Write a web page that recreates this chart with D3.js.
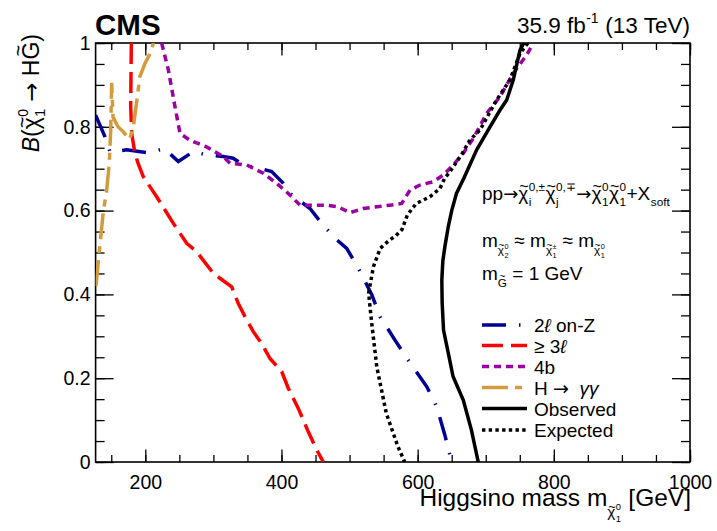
<html>
<head>
<meta charset="utf-8">
<script src="https://cdnjs.cloudflare.com/ajax/libs/d3/7.8.5/d3.min.js"></script>
<style>
  body { margin: 0; background: #fff; }
  text { font-family: "Liberation Sans", Arial, sans-serif; fill: #000; white-space: pre; }
</style>
</head>
<body>
<div id="chart"></div>
<script>
// limit curves, [higgsino mass (GeV), branching fraction]
var onZ = [[127,0.828],[140.8,0.776],[148,0.741],[160,0.742],[172.7,0.745],[204.4,0.738],[228,0.748],
  [248.5,0.717],[270.5,0.741],[290,0.733],[314.5,0.729],[329,0.725],[344,0.709],[368,0.701],
  [385.6,0.693],[402.7,0.665],[412.5,0.641],[441.9,0.605],[461.5,0.565],[478,0.535],[495.8,0.510],
  [513,0.462],[532.5,0.400],[544.7,0.347],[566.7,0.291],[586.3,0.243],[613.3,0.180],[628,0.132],
  [640,0.064],[650,0.0]];
var threeL = [[179.5,1.0],[178.5,0.85],[180,0.784],[185,0.735],[190,0.71],[197,0.681],[216.7,0.633],
  [241,0.570],[260.8,0.522],[275.5,0.502],[299.9,0.450],[326.9,0.418],[336.6,0.378],[346.4,0.347],
  [358.6,0.311],[370.9,0.283],[383.1,0.247],[400.3,0.216],[410,0.176],[424.7,0.128],[439.4,0.072],
  [451.7,0.029],[461.5,0.0]];
var fourB = [[224,1.0],[233.8,0.936],[243.6,0.848],[251,0.784],[265.6,0.768],[290,0.752],[314.5,0.729],
  [324.4,0.713],[348.9,0.709],[373.3,0.689],[393,0.665],[410,0.641],[427.2,0.613],[466.4,0.613],
  [483.4,0.609],[500.6,0.595],[520.2,0.605],[559.4,0.613],[576.6,0.617],[588.7,0.649],[603.4,0.661],
  [623,0.669],[637.6,0.685],[652.3,0.709],[667,0.737],[681.7,0.772],[701.3,0.832],[721,0.872],
  [740.5,0.928],[760,0.971],[770,1.0]];
var hgg = [[127.5,0.42],[132.4,0.502],[138.3,0.597],[143.3,0.649],[147.1,0.713],[149.2,0.792],
  [150.6,0.905],[152.6,0.823],[160,0.80],[167.7,0.788],[177,0.77],[182.4,0.80],[187.4,0.86],
  [192,0.92],[199.5,0.951],[207,0.975],[212,1.0]];
var observed = [[756,1.0],[750.3,0.983],[740.5,0.912],[730.8,0.864],[721,0.840],[706.3,0.800],
  [686.7,0.745],[668,0.678],[657,0.641],[650,0.60],[645,0.562],[640,0.514],[637,0.48],[635.5,0.434],
  [636,0.38],[638,0.315],[645,0.26],[652,0.204],[667,0.148],[679,0.076],[689,0.0]];
var expected = [[762,1.0],[750.3,0.975],[735.6,0.912],[716,0.864],[691.5,0.792],[676.9,0.769],
  [665,0.735],[647.5,0.693],[640,0.678],[632.8,0.653],[618,0.633],[603,0.621],[598,0.617],[585,0.59],
  [577,0.555],[568,0.54],[559,0.53],[545,0.51],[535,0.466],[528,0.403],[532,0.339],[540,0.227],
  [554,0.116],[571,0.037],[581,0.0]];

var xMajor = [200, 400, 600, 800, 1000];
var xMinor = d3.range(150, 1001, 50);
var yMajor = [0, 0.2, 0.4, 0.6, 0.8, 1];
var yMinor = d3.range(0, 21).map(function (i) { return i / 20; });

var W = 717, H = 531;
var svg = d3.select("#chart").append("svg").attr("width", W).attr("height", H);

var x = d3.scaleLinear().domain([127, 1000]).range([95.6, 690]);
var y = d3.scaleLinear().domain([0, 1]).range([462, 43]);

svg.append("clipPath").attr("id", "clip").append("rect")
  .attr("x", 95.6).attr("y", 43).attr("width", 690 - 95.6).attr("height", 462 - 43);

var ARROW = "'DejaVu Sans', sans-serif";

// rich text: parts laid out one after another
function rich(g, parts, size) {
  var cx = 0;
  parts.forEach(function (p) {
    var fs = size * (p.sc || 1), by = (p.dy || 0) * size;
    var t = g.append("text").attr("x", cx).attr("y", by).style("font-size", fs + "px").text(p.s);
    if (p.it) t.style("font-style", "italic");
    if (p.f) t.style("font-family", p.f);
    var w = t.node().getComputedTextLength();
    if (p.tl) {
      var off = p.tl === "hi" ? 0.58 : 0.4;
      g.append("text").attr("x", cx + w / 2 + (p.tl === "hi" ? 0 : fs * 0.04)).attr("y", by - fs * off)
        .attr("text-anchor", "middle").style("font-size", (fs * 0.85) + "px").text("~");
    }
    var ws = 0;
    if (p.sup) {
      var s = g.append("text").attr("x", cx + w + 0.5).attr("y", by - fs * 0.45)
        .style("font-size", (fs * 0.62) + "px").text(p.sup);
      ws = Math.max(ws, s.node().getComputedTextLength());
    }
    if (p.sub) {
      var b = g.append("text").attr("x", cx + w + 0.5).attr("y", by + fs * 0.3)
        .style("font-size", (fs * 0.62) + "px").text(p.sub);
      ws = Math.max(ws, b.node().getComputedTextLength());
    }
    cx += w + ws + (ws ? 1 : 0);
  });
  return cx;
}

// axes, ticks inside
function ax(gen, tx, ty, vals, len, labels) {
  var a = gen.tickValues(vals).tickSize(-len).tickPadding(labels ? labels : 0);
  if (!labels) a.tickFormat("");
  else a.tickFormat(function (d) { return String(d); });
  var g = svg.append("g").attr("transform", "translate(" + tx + "," + ty + ")").call(a);
  g.select(".domain").remove();
  g.selectAll("line").attr("stroke", "#000").attr("stroke-width", 1.3);
  g.selectAll("text").style("font-size", "19.5px").attr("fill", "#000")
    .style("font-family", "'Liberation Sans', Arial, sans-serif");
  return g;
}
ax(d3.axisBottom(x), 0, 462, xMinor, 7, 0);
ax(d3.axisBottom(x), 0, 462, xMajor, 12.5, 13);
ax(d3.axisTop(x), 0, 43, xMinor, 7, 0);
ax(d3.axisTop(x), 0, 43, xMajor, 12.5, 0);
ax(d3.axisLeft(y), 95.6, 0, yMinor, 9, 0);
ax(d3.axisLeft(y), 95.6, 0, yMajor, 18, 5);
ax(d3.axisRight(y), 690, 0, yMinor, 9, 0);
ax(d3.axisRight(y), 690, 0, yMajor, 18, 0);

svg.append("rect").attr("x", 95.6).attr("y", 43).attr("width", 690 - 95.6).attr("height", 462 - 43)
  .attr("fill", "none").attr("stroke", "#000").attr("stroke-width", 1.6);

var line = d3.line().x(function (d) { return x(d[0]); }).y(function (d) { return y(d[1]); });

var series = [
  { data: onZ,      color: "#000096", dash: "24,13,1.5,13", label: [{ s: "2" }, { s: "\u2113", it: true }, { s: " on-Z" }] },
  { data: threeL,   color: "#ff0000", dash: "21,8",         label: [{ s: "\u2265 3" }, { s: "\u2113", it: true }] },
  { data: fourB,    color: "#9a00a2", dash: "7,5",          label: [{ s: "4b" }] },
  { data: hgg,      color: "#d29b3c", dash: "26,7,7,7",     label: [{ s: "H " }, { s: "\u2192", f: ARROW }, { s: "  " }, { s: "\u03b3\u03b3", it: true }] },
  { data: observed, color: "#000000", dash: null,           label: [{ s: "Observed" }] },
  { data: expected, color: "#000000", dash: "3.4,3.3",      label: [{ s: "Expected" }] }
];

var plot = svg.append("g").attr("clip-path", "url(#clip)");
series.forEach(function (s) {
  plot.append("path").datum(s.data).attr("d", line)
    .attr("fill", "none").attr("stroke", s.color).attr("stroke-width", 3.5)
    .attr("stroke-dasharray", s.dash);
});

// legend
var legY = [325, 345.5, 366.5, 387.5, 408.5, 430];
series.forEach(function (s, i) {
  svg.append("line").attr("x1", 482).attr("x2", 527).attr("y1", legY[i]).attr("y2", legY[i])
    .attr("stroke", s.color).attr("stroke-width", 3.5).attr("stroke-dasharray", s.dash);
  var g = svg.append("g").attr("transform", "translate(534," + (legY[i] + 7) + ")");
  rich(g, s.label, 19);
});

// process text
var t1 = svg.append("g").attr("transform", "translate(482,200)");
rich(t1, [{ s: "pp" }, { s: "\u2192", f: ARROW, sc: 0.95 }, { s: "\u03c7", tl: true, sup: "0,\u00b1", sub: "i" },
  { s: "\u03c7", tl: true, sup: "0,\u2213", sub: "j" }, { s: "\u2192", f: ARROW, sc: 0.95 },
  { s: "\u03c7", tl: true, sup: "0", sub: "1" }, { s: "\u03c7", tl: true, sup: "0", sub: "1" },
  { s: "+X", sub: "soft" }], 19);

var t2 = svg.append("g").attr("transform", "translate(482,246.5)");
rich(t2, [{ s: "m" }, { s: "\u03c7", sc: 0.62, dy: 0.4, tl: true, sup: "0", sub: "2" },
  { s: " \u2248 m" }, { s: "\u03c7", sc: 0.62, dy: 0.4, tl: true, sup: "\u00b1", sub: "1" },
  { s: " \u2248 m" }, { s: "\u03c7", sc: 0.62, dy: 0.4, tl: true, sup: "0", sub: "1" }], 19);

var t3 = svg.append("g").attr("transform", "translate(482,280)");
rich(t3, [{ s: "m" }, { s: "G", sc: 0.62, dy: 0.35, tl: "hi" }, { s: " = 1 GeV" }], 19);

// header
svg.append("text").attr("x", 95).attr("y", 35).style("font-size", "29.5px").style("font-weight", "bold").text("CMS");
var lumi = svg.append("g");
var lw = rich(lumi, [{ s: "35.9 fb", sup: "-1" }, { s: " (13 TeV)" }], 22.5);
lumi.attr("transform", "translate(" + (690 - lw) + ",33)");

// x title
var xt = svg.append("g");
var xw = rich(xt, [{ s: "Higgsino mass m" }, { s: "\u03c7", sc: 0.62, dy: 0.45, tl: true, sup: "0", sub: "1" },
  { s: " [GeV]" }], 24.5);
xt.attr("transform", "translate(" + (691 - xw) + ",506)");

// y title
var yt = svg.append("g");
var yw = rich(yt, [{ s: "B", it: true }, { s: "(" }, { s: "\u03c7", tl: true, sup: "0", sub: "1" },
  { s: " " }, { s: "\u2192", f: ARROW }, { s: " H" }, { s: "G", tl: "hi" }, { s: ")" }], 23);
yt.attr("transform", "translate(38.5," + (34 + yw) + ") rotate(-90)");
</script>
</body>
</html>
